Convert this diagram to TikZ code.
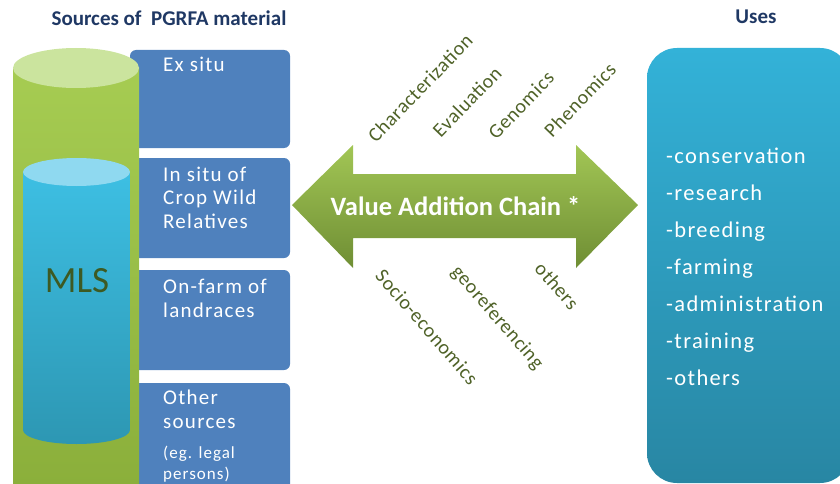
\documentclass[tikz,border=0pt]{standalone}
\usepackage{fontspec}
\setmainfont{Carlito}
\newfontfamily\spaced[LetterSpace=6]{Carlito}
\newfontfamily\lspaced[LetterSpace=3]{Carlito}
\usetikzlibrary{shapes.geometric}
\definecolor{navy}{HTML}{1F3864}
\definecolor{boxblue}{HTML}{4F81BD}
\definecolor{olive}{HTML}{4F6228}
\definecolor{mlsgreen}{HTML}{3D5A22}
\definecolor{gtop}{HTML}{A6CC52}
\definecolor{gbot}{HTML}{8AAE3A}
\definecolor{gcap}{HTML}{CBE49E}
\definecolor{ctop}{HTML}{3DBFE3}
\definecolor{cbot}{HTML}{2D97B3}
\definecolor{ccap}{HTML}{8FD9F0}
\definecolor{atop}{HTML}{A2C655}
\definecolor{abot}{HTML}{6F8E34}
\definecolor{utop}{HTML}{33B2D8}
\definecolor{ubot}{HTML}{2886A3}
\tikzset{
  title/.style={font=\bfseries\fontsize{21}{24}\selectfont, text=navy, inner sep=0pt},
  srcbox/.style={fill=boxblue, rounded corners=6pt, draw=none},
  boxtext/.style={text=white, font=\spaced\fontsize{21}{24}\selectfont, anchor=base west, inner sep=0pt},
  smalltext/.style={text=white, font=\spaced\fontsize{17}{20}\selectfont, anchor=base west, inner sep=0pt},
  steplabel/.style={text=olive, font=\lspaced\fontsize{20}{22}\selectfont, inner sep=0pt},
  usetext/.style={text=white, font=\spaced\fontsize{22.5}{26}\selectfont, anchor=base west, inner sep=0pt},
}
\begin{document}
\begin{tikzpicture}[x=1pt,y=-1pt]
\useasboundingbox (0,0) rectangle (840,484);
\clip (0,0) rectangle (840,484);
% titles
\node[title] (t1) at (169,18) {Sources of\ \ PGRFA material};
\node[title] (t2) at (756,17) {Uses};
% source boxes
\fill[srcbox] (130,50) rectangle (290,148);
\fill[srcbox] (130,158) rectangle (290,258);
\fill[srcbox] (130,270) rectangle (290,370);
\fill[srcbox] (130,383) rectangle (290,500);
% green cylinder
\shade[top color=gtop, bottom color=gbot] (13,68) rectangle (139,500);
\fill[gcap] (76,68) ellipse [x radius=63, y radius=20];
% blue cylinder
\shade[top color=ctop, bottom color=cbot] (23,172) -- (23,430) arc[start angle=180, end angle=0, x radius=53.5, y radius=14] -- (130,172) -- cycle;
\fill[ccap] (76.5,172) ellipse [x radius=53.5, y radius=14];
\node[text=mlsgreen, font=\fontsize{37}{40}\selectfont, inner sep=0pt] (mls) at (77,281) {MLS};
% box texts
\node[boxtext] (b1) at (163,72) {Ex situ};
\node[boxtext] (b2a) at (163,181) {In situ of};
\node[boxtext] (b2b) at (163,204) {Crop Wild};
\node[boxtext] (b2c) at (163,228) {Relatives};
\node[boxtext] (b3a) at (163,293) {On-farm of};
\node[boxtext] (b3b) at (163,317) {landraces};
\node[boxtext] (b4a) at (163,404) {Other};
\node[boxtext] (b4b) at (163,428) {sources};
\node[smalltext] (b4c) at (163,458) {(eg. legal};
\node[smalltext] (b4d) at (163,479) {persons)};
% arrow
\shade[top color=atop, bottom color=abot] (292,205) -- (353,145) -- (353,174) -- (576,174) -- (576,145) -- (638,205) -- (576,268) -- (576,238) -- (353,238) -- (353,268) -- cycle;
\node[text=white, font=\bfseries\fontsize{26.5}{28}\selectfont, inner sep=0pt] (vac) at (455.5,206) {Value Addition Chain *};
% rotated labels
\node[steplabel, rotate=46] (l1) at (420,88) {Characterization};
\node[steplabel, rotate=46] (l2) at (467,102) {Evaluation};
\node[steplabel, rotate=46] (l3) at (521,105) {Genomics};
\node[steplabel, rotate=46] (l4) at (580,100) {Phenomics};
\node[steplabel, rotate=-49] (l5) at (427,327) {Socio-economics};
\node[steplabel, rotate=-49] (l6) at (497,318) {georeferencing};
\node[steplabel, rotate=-49] (l7) at (557,286) {others};
% uses box
\shade[top color=utop, bottom color=ubot, rounded corners=30pt] (647,48) rectangle (850,483);
\node[usetext] (u1) at (666,163) {-conservation};
\node[usetext] (u2) at (666,200) {-research};
\node[usetext] (u3) at (666,237) {-breeding};
\node[usetext] (u4) at (666,274) {-farming};
\node[usetext] (u5) at (666,311) {-administration};
\node[usetext] (u6) at (666,348) {-training};
\node[usetext] (u7) at (666,385) {-others};
\end{tikzpicture}
\end{document}
